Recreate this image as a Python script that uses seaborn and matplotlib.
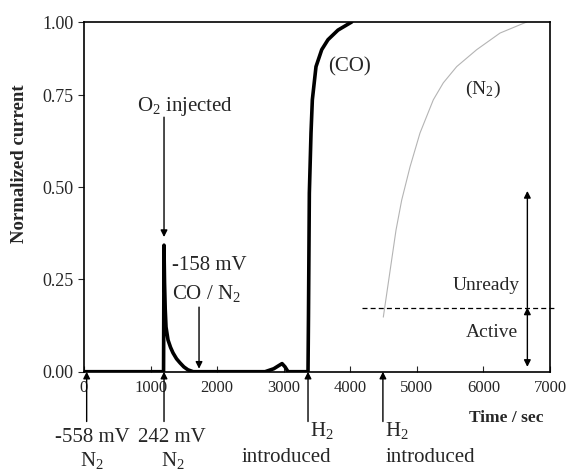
import matplotlib
matplotlib.use("Agg")
import matplotlib.pyplot as plt
import seaborn as sns
import pandas as pd

# ---- data ----
co_time = [0, 1195, 1202, 1205, 1210, 1220, 1232, 1262, 1300, 1337, 1390, 1442, 1500, 1562, 1640,
           2000, 2500, 2720, 2850, 2930, 2975, 3020, 3065, 3200, 3365, 3372, 3385, 3410, 3430,
           3485, 3571, 3665, 3815, 4021]
co_current = [0, 0, 0.343, 0.30, 0.24, 0.17, 0.121, 0.086, 0.066, 0.051, 0.035, 0.024, 0.013, 0.005, 0,
              0, 0, 0, 0.008, 0.017, 0.022, 0.013, 0, 0, 0, 0.15, 0.484, 0.647, 0.737,
              0.827, 0.873, 0.90, 0.926, 0.948]

n2_time = [4496, 4687, 4772, 4897, 5047, 5247, 5397, 5598, 5899, 6249, 6650]
n2_current = [0.148, 0.384, 0.465, 0.555, 0.647, 0.737, 0.783, 0.827, 0.873, 0.918, 0.948]

x_ticks = [0, 1000, 2000, 3000, 4000, 5000, 6000, 7000]
y_ticks = [0.0, 0.25, 0.50, 0.75, 0.948]
y_tick_labels = ["0.00", "0.25", "0.50", "0.75", "1.00"]

event_times = [40, 1202, 3365, 4490]
threshold = 0.174

sns.set_style("ticks")
plt.rcParams["font.family"] = ["Liberation Serif", "DejaVu Serif"]
plt.rcParams["mathtext.fontset"] = "custom"
plt.rcParams["mathtext.rm"] = "Liberation Serif"
plt.rcParams["mathtext.it"] = "Liberation Serif:italic"
plt.rcParams["mathtext.bf"] = "Liberation Serif:bold"

fig = plt.figure(figsize=(5.74, 4.70), dpi=100)
ax = fig.add_axes([84 / 574, 1 - 371.7 / 470, (550 - 84) / 574, (371.7 - 22) / 470])

co_df = pd.DataFrame({"t": co_time, "i": co_current})
n2_df = pd.DataFrame({"t": n2_time, "i": n2_current})
sns.lineplot(data=n2_df, x="t", y="i", ax=ax, color="#b4b4b4", lw=0.8, sort=False)
sns.lineplot(data=co_df, x="t", y="i", ax=ax, color="black", lw=2.6, sort=False)

ax.set_xlim(0, 7000)
ax.set_ylim(0, 0.948)
ax.set_xticks(x_ticks)
ax.set_xticklabels([str(v) for v in x_ticks], fontsize=12)
ax.set_yticks(y_ticks)
ax.set_yticklabels(y_tick_labels, fontsize=13)
ax.tick_params(axis="x", direction="in", length=4, width=0.8, pad=6)
ax.tick_params(axis="y", direction="out", length=4, width=0.8)
for s in ax.spines.values():
    s.set_visible(True)
    s.set_linewidth(1.2)
    s.set_color("black")
ax.set_xlabel("")
ax.set_ylabel("")

fig.text(506 / 574, 1 - 418 / 470, "Time / sec", ha="center", va="center",
         fontsize=12.5, fontweight="bold")
fig.text(20 / 574, 1 - 164 / 470, "Normalized current", ha="center", va="center",
         rotation=90, fontsize=13.5, fontweight="bold")

ap = dict(arrowstyle="-|>", color="black", lw=1.0, mutation_scale=10, shrinkA=0, shrinkB=0)

# O2 injected
ax.text(796, 0.718, r"O$_\mathregular{2}$ injected", fontsize=15, va="center", ha="left")
ax.annotate("", xy=(1202, 0.365), xytext=(1202, 0.69), arrowprops=ap)

# -158 mV CO / N2
ax.text(1322, 0.289, "-158 mV", fontsize=15, va="center", ha="left")
ax.text(1322, 0.213, r"CO / N$_\mathregular{2}$", fontsize=15, va="center", ha="left")
ax.annotate("", xy=(1728, 0.008), xytext=(1728, 0.175), arrowprops=ap)

ax.text(3665, 0.826, "(CO)", fontsize=15, va="center", ha="left")
ax.text(5723, 0.764, r"(N$_\mathregular{2}$)", fontsize=14, va="center", ha="left")

# Unready / Active
ax.plot([4171, 7090], [threshold, threshold], ls=(0, (4, 2.5)), color="black", lw=0.9, clip_on=False)
ax.text(6550, 0.235, "Unready", fontsize=14, va="center", ha="right")
ax.text(6520, 0.105, "Active", fontsize=14, va="center", ha="right")
ax.annotate("", xy=(6660, 0.49), xytext=(6660, threshold), arrowprops=ap)
ax.annotate("", xy=(6660, threshold), xytext=(6660, 0.013),
            arrowprops=dict(arrowstyle="<|-|>", color="black", lw=1.0, mutation_scale=10,
                            shrinkA=0, shrinkB=0))

# event arrows below axis
for t in event_times:
    ax.annotate("", xy=(t, 0.0), xytext=(t, -0.135), arrowprops=ap, annotation_clip=False)

ax.text(120, -0.178, "-558 mV", fontsize=15, va="center", ha="center", clip_on=False)
ax.text(1322, -0.178, "242 mV", fontsize=15, va="center", ha="center", clip_on=False)
ax.text(120, -0.242, r"N$_\mathregular{2}$", fontsize=15, va="center", ha="center", clip_on=False)
ax.text(1330, -0.242, r"N$_\mathregular{2}$", fontsize=15, va="center", ha="center", clip_on=False)
ax.text(3395, -0.160, r"H$_\mathregular{2}$", fontsize=15, va="center", ha="left", clip_on=False)
ax.text(3035, -0.232, "introduced", fontsize=15, va="center", ha="center", clip_on=False)
ax.text(4520, -0.160, r"H$_\mathregular{2}$", fontsize=15, va="center", ha="left", clip_on=False)
ax.text(4537, -0.232, "introduced", fontsize=15, va="center", ha="left", clip_on=False)

fig.savefig("out.png", dpi=100)
